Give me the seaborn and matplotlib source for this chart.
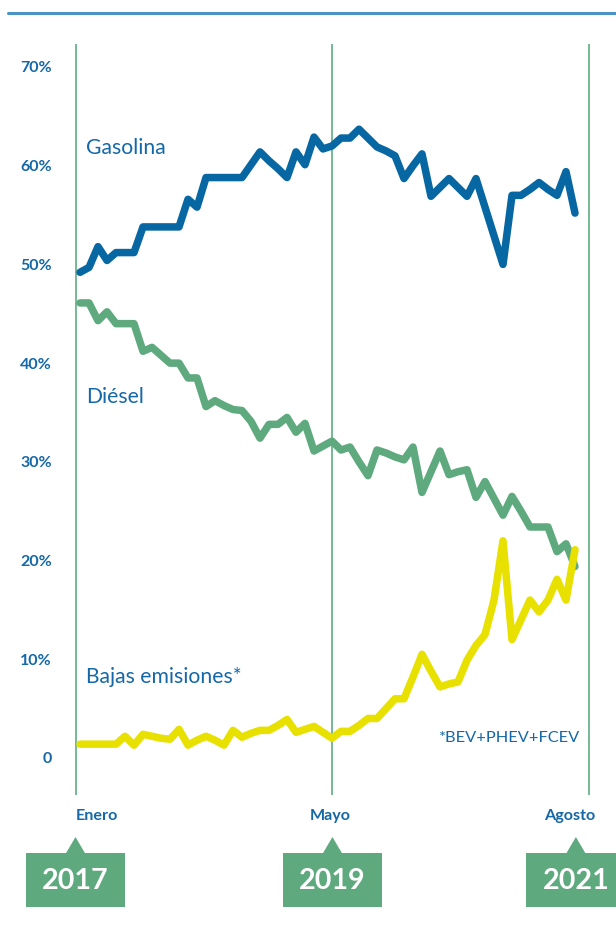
import numpy as np
import pandas as pd
import matplotlib.pyplot as plt
import seaborn as sns
from matplotlib.patches import Rectangle, Polygon
from matplotlib.lines import Line2D

# cuota de mercado mensual (%), enero 2017 - agosto 2021
gasolina = [49.2, 49.7, 51.8, 50.4, 51.2, 51.2, 51.2, 53.8, 53.8, 53.8,
            53.8, 53.8, 56.6, 55.8, 58.8, 58.8, 58.8, 58.8, 58.8, 60.1,
            61.4, 60.5, 59.7, 58.8, 61.4, 60.1, 62.9, 61.7, 62.0, 62.8,
            62.8, 63.7, 62.8, 61.9, 61.5, 61.0, 58.7, 60.0, 61.2, 56.9,
            57.8, 58.7, 57.8, 56.9, 58.7, 55.8, 52.9, 50.0, 57.0, 57.0,
            57.6, 58.3, 57.6, 57.0, 59.4, 55.2]
diesel = [46.1, 46.1, 44.3, 45.2, 44.0, 44.0, 44.0, 41.2, 41.6, 40.8,
          40.0, 40.0, 38.5, 38.5, 35.6, 36.2, 35.7, 35.3, 35.2, 34.1,
          32.4, 33.8, 33.8, 34.5, 33.0, 33.9, 31.1, 31.6, 32.1, 31.2,
          31.5, 30.0, 28.6, 31.2, 30.9, 30.5, 30.2, 31.5, 26.9, 29.0,
          31.1, 28.7, 29.0, 29.2, 26.4, 28.0, 26.3, 24.6, 26.5, 25.0,
          23.4, 23.4, 23.4, 20.9, 21.7, 19.4]
bajas = [1.4, 1.4, 1.4, 1.4, 1.4, 2.2, 1.3, 2.4, 2.2, 2.0,
         1.9, 2.9, 1.3, 1.8, 2.2, 1.8, 1.3, 2.8, 2.1, 2.5,
         2.8, 2.8, 3.3, 3.9, 2.6, 2.9, 3.2, 2.6, 2.0, 2.7,
         2.7, 3.3, 4.0, 4.0, 5.0, 6.0, 6.0, 8.2, 10.5, 8.8,
         7.2, 7.5, 7.7, 9.9, 11.4, 12.5, 16.0, 22.0, 12.0, 14.0,
         16.0, 14.8, 16.0, 18.1, 16.0, 21.1]
meses = list(range(len(gasolina)))

series = ["Gasolina", "Diésel", "Bajas emisiones*"]
yticks = [0, 10, 20, 30, 40, 50, 60, 70]
ytick_labels = ["0", "10%", "20%", "30%", "40%", "50%", "60%", "70%"]
hitos_mes = ["Enero", "Mayo", "Agosto"]
hitos_anyo = ["2017", "2019", "2021"]

AZUL = "#1468a8"
VERDE = "#5fa97e"
colores = {"Gasolina": "#0767a2", "Diésel": "#5eaa7e", "Bajas emisiones*": "#e8e100"}

df = pd.DataFrame({
    "mes": meses * 3,
    "cuota": gasolina + diesel + bajas,
    "serie": ["Gasolina"] * len(meses) + ["Diésel"] * len(meses) + ["Bajas emisiones*"] * len(meses),
})

sns.set_style("white")
plt.rcParams["font.family"] = ["Lato", "DejaVu Sans"]

W, H = 616, 931
fig = plt.figure(figsize=(W / 100, H / 100), dpi=100)
# axes from px 60..600 horizontally, 44..795 vertically
ax = fig.add_axes([60 / W, (H - 795) / H, 540 / W, 751 / H])
ax.set_xlim(-20 / 9, 520 / 9)
ax.set_ylim(-3.75, 72.33)

# guias verticales
for xv in [-0.45, 28, 56.55]:
    ax.axvline(xv, color="#6ab38a", lw=1.3, zorder=1)

for s in ["Diésel", "Gasolina", "Bajas emisiones*"]:
    sns.lineplot(data=df[df.serie == s], x="mes", y="cuota", color=colores[s],
                 lw=5.4, ax=ax, solid_joinstyle="round", solid_capstyle="round",
                 zorder=3, legend=False)

sns.despine(ax=ax, left=True, bottom=True)
ax.set_xlabel("")
ax.set_ylabel("")
ax.set_xticks([])
ax.set_yticks(yticks)
ax.set_yticklabels(ytick_labels)
ax.tick_params(axis="y", length=0, pad=6, labelsize=11.5, labelcolor=AZUL)
for t in ax.get_yticklabels():
    t.set_fontweight("bold")

# etiquetas de serie
ax.text(0.67, 61.8, "Gasolina", color=AZUL, fontsize=15.2, va="center", ha="left")
ax.text(0.67, 36.6, "Diésel", color=AZUL, fontsize=15.2, va="center", ha="left")
ax.text(0.67, 8.2, "Bajas emisiones*", color=AZUL, fontsize=15.2, va="center", ha="left")
ax.text(55.6, 2.0, "*BEV+PHEV+FCEV", color=AZUL, fontsize=11.8, va="center", ha="right")

# linea superior
fig.add_artist(Line2D([8 / W, 1], [1 - 13 / H, 1 - 13 / H], color="#4a94c4", lw=2.2))

# meses y cajas de año
def px_x(xd):
    return ax.transData.transform((xd, 0))[0] / fig.dpi / fig.get_figwidth()

mes_pos = [(-0.44, "left"), (27.8, "center"), (54.4, "center")]
for (xm, ha), lab in zip(mes_pos, hitos_mes):
    fig.text(px_x(xm), 1 - 816 / H, lab, color=AZUL, fontsize=11.6, fontweight="bold",
             ha=ha, va="center")

caja_x = [-0.5, 28.05, 55.1]
for xc, lab in zip(caja_x, hitos_anyo):
    cx = px_x(xc) * W
    fig.add_artist(Rectangle(((cx - 49.5) / W, 1 - 907 / H), 99 / W, 54 / H,
                             transform=fig.transFigure, color=VERDE, lw=0))
    fig.add_artist(Polygon([((cx - 10) / W, 1 - 854 / H), ((cx + 10) / W, 1 - 854 / H),
                            (cx / W, 1 - 837 / H)], closed=True,
                           transform=fig.transFigure, color=VERDE, lw=0))
    fig.text(cx / W, 1 - 881 / H, lab, color="white", fontsize=20.6, fontweight="bold",
             ha="center", va="center")

fig.savefig("out.png", dpi=100)
